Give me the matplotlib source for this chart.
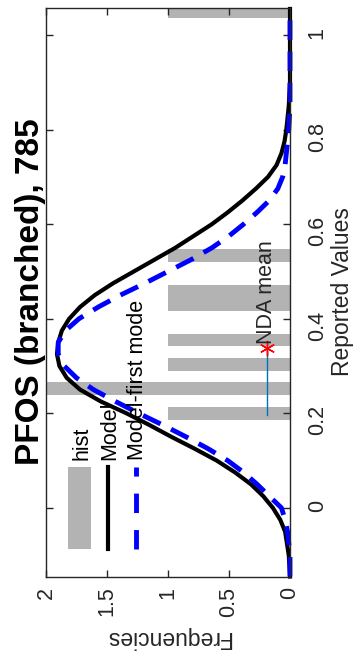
"""
PFOS (branched) histogram with model fits, drawn turned on its side
"""

import matplotlib
matplotlib.use("Agg")
import matplotlib.pyplot as plt
from matplotlib.patches import Rectangle
from matplotlib.lines import Line2D

plt.rcParams['font.family'] = ['Liberation Sans', 'DejaVu Sans']

# histogram of reported values
hist_centers = [0.200, 0.253, 0.304, 0.355, 0.430, 0.457, 0.533, 1.050]
hist_counts = [1, 2, 1, 1, 1, 1, 1, 1]

# model curves
values = [-0.145, -0.10, -0.05, -0.025, 0.00, 0.025, 0.05, 0.075, 0.10, 0.125,
          0.15, 0.175, 0.20, 0.225, 0.25, 0.275, 0.30, 0.325, 0.35, 0.375,
          0.40, 0.425, 0.45, 0.475, 0.50, 0.525, 0.55, 0.575, 0.60, 0.625,
          0.65, 0.675, 0.70, 0.725, 0.75, 0.775, 0.80, 0.85, 0.90, 0.95,
          1.00, 1.055]
model = [0.0, 0.01, 0.04, 0.08, 0.14, 0.22, 0.32, 0.45, 0.60, 0.78,
         0.97, 1.15, 1.34, 1.55, 1.72, 1.83, 1.89, 1.91, 1.90, 1.87,
         1.81, 1.72, 1.60, 1.45, 1.28, 1.11, 0.94, 0.79, 0.64, 0.51,
         0.39, 0.28, 0.18, 0.11, 0.07, 0.045, 0.03, 0.01, 0.0, 0.0,
         0.0, 0.0]
model_first = [0.0, 0.0, 0.02, 0.04, 0.07, 0.17, 0.27, 0.38, 0.51, 0.67,
               0.85, 1.04, 1.24, 1.43, 1.61, 1.75, 1.85, 1.90, 1.90, 1.84,
               1.73, 1.57, 1.39, 1.19, 1.00, 0.81, 0.64, 0.50, 0.38, 0.27,
               0.17, 0.10, 0.06, 0.04, 0.03, 0.02, 0.01, 0.0, 0.0, 0.0,
               0.0, 0.0]

# NDA mean marker and its line
nda_mean = 0.339
nda_low = 0.197
nda_freq = 0.19

freq_ticks = [0, 0.5, 1, 1.5, 2]
freq_labels = ['0', '0.5', '1', '1.5', '2']
value_ticks = [0, 0.2, 0.4, 0.6, 0.8, 1]
value_labels = ['0', '0.2', '0.4', '0.6', '0.8', '1']

AX_COLOR = '#262626'
GRAY = '#b3b3b3'

fig = plt.figure(figsize=(3.55, 6.57), dpi=100)
ax = fig.add_axes([0.1296, 0.1218, 0.6873, 0.866])

ax.barh(hist_centers, hist_counts, height=0.027, color=GRAY, linewidth=0)
ax.plot(model, values, color='black', linewidth=3, clip_on=False,
        solid_joinstyle='round')
ax.plot(model_first, values, color='blue', linewidth=3.5, dashes=(4, 2.4),
        clip_on=False)

ax.plot([nda_freq, nda_freq], [nda_low, nda_mean], color='#0072BD',
        linewidth=1)
ax.plot([nda_freq], [nda_mean], marker=(6, 2, 0), color='red',
        markersize=11, markeredgewidth=1)
ax.text(nda_freq, nda_mean + 0.008, 'NDA mean', rotation=90, ha='center',
        va='bottom', fontsize=15.5, color='#262626')

ax.set_xlim(2, 0)
ax.set_ylim(-0.146, 1.057)
ax.set_xticks(freq_ticks)
ax.set_xticklabels(freq_labels, rotation=90)
ax.set_yticks(value_ticks)
ax.set_yticklabels(value_labels, rotation=90)
ax.tick_params(axis='both', direction='in', length=5, width=1,
               colors=AX_COLOR, labelsize=15.5,
               top=True, bottom=True, left=True, right=True,
               labelleft=False, labelright=True)
ax.tick_params(axis='x', pad=7)
ax.tick_params(axis='y', pad=12)
for s in ax.spines.values():
    s.set_color(AX_COLOR)
    s.set_linewidth(1)

# legend, drawn by hand because it is turned too
ax.add_patch(Rectangle((0.090, 0.049), 0.094, 0.144, color=GRAY,
                       transform=ax.transAxes, linewidth=0))
ax.add_line(Line2D([0.254, 0.254], [0.049, 0.193], color='black',
                   linewidth=3, transform=ax.transAxes))
ax.add_line(Line2D([0.369, 0.369], [0.049, 0.193], color='blue',
                   linewidth=3.5, dashes=(4, 3.5), transform=ax.transAxes))
for x, label in [(0.148, 'hist'), (0.262, 'Model'), (0.373, 'Model-first mode')]:
    ax.text(x, 0.206, label, rotation=90, ha='center', va='bottom',
            fontsize=15.5, color='black', transform=ax.transAxes)

fig.text(0.087, 0.5555, 'PFOS (branched), 785', rotation=90, ha='center',
         va='center', fontsize=24, fontweight='bold')
fig.text(0.966, 0.5555, 'Reported Values', rotation=90, ha='center',
         va='center', fontsize=16.5, color=AX_COLOR)
fig.text(0.4732, 0.0304, 'Frequencies', rotation=180, ha='center',
         va='center', fontsize=16.5, color=AX_COLOR)

fig.savefig('out.png', dpi=100)
